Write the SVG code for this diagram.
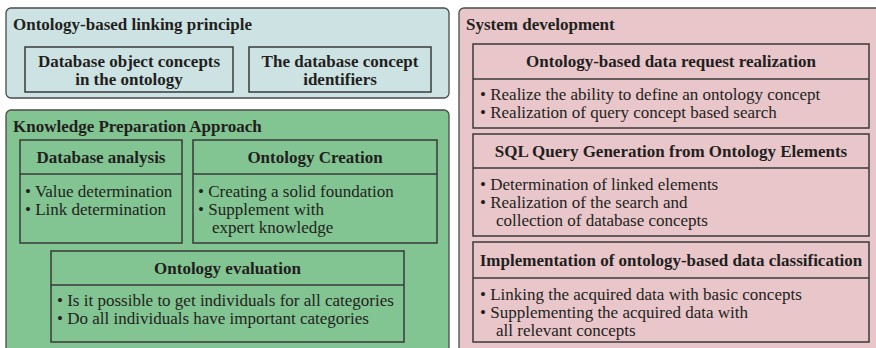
<svg xmlns="http://www.w3.org/2000/svg" width="876" height="348" viewBox="0 0 876 348">
<style>
text{font-family:"Liberation Serif","Times New Roman",serif;font-size:17px;fill:#231f20}
.b{font-weight:bold}
.c{text-anchor:middle}
.panel{stroke:#4a4a4a;stroke-width:1.3}
.box{fill:none;stroke:#3a3a3a;stroke-width:1.5}
.div{stroke:#3a3a3a;stroke-width:1.5}
</style>
<rect width="876" height="348" fill="#ffffff"/>
<g id="linking-panel">
<rect class="panel" x="6" y="8" width="443" height="90" rx="5" fill="#cde3e3"/>
<text class="b" x="13" y="30">Ontology-based linking principle</text>
</g>
<g id="db-object-concepts">
<rect class="box" x="25" y="47" width="208" height="45"/>
<text class="b c" x="129" y="67">Database object concepts</text>
<text class="b c" x="129" y="85">in the ontology</text>
</g>
<g id="db-concept-identifiers">
<rect class="box" x="249" y="47" width="182" height="45"/>
<text class="b c" x="340" y="67">The database concept</text>
<text class="b c" x="340" y="85">identifiers</text>
</g>
<g id="knowledge-panel">
<rect class="panel" x="6" y="110" width="443" height="260" rx="5" fill="#82c492"/>
<text class="b" x="13" y="132">Knowledge Preparation Approach</text>
</g>
<g id="database-analysis">
<rect class="box" x="20" y="140" width="162" height="103"/>
<line class="div" x1="20" y1="174" x2="182" y2="174"/>
<text class="b c" x="101" y="163">Database analysis</text>
<text x="25" y="197">• Value determination</text>
<text x="25" y="215">• Link determination</text>
</g>
<g id="ontology-creation">
<rect class="box" x="193" y="140" width="244" height="103"/>
<line class="div" x1="193" y1="174" x2="437" y2="174"/>
<text class="b c" x="315" y="163">Ontology Creation</text>
<text x="198" y="197">• Creating a solid foundation</text>
<text x="198" y="215">• Supplement with</text>
<text x="212" y="233">expert knowledge</text>
</g>
<g id="ontology-evaluation">
<rect class="box" x="51" y="251" width="353" height="91"/>
<line class="div" x1="51" y1="285" x2="404" y2="285"/>
<text class="b c" x="227.5" y="274">Ontology evaluation</text>
<text x="57" y="306">• Is it possible to get individuals for all categories</text>
<text x="57" y="324">• Do all individuals have important categories</text>
</g>
<g id="system-panel">
<rect class="panel" x="459" y="8" width="440" height="360" rx="5" fill="#e8c6ca"/>
<text class="b" x="466" y="30">System development</text>
</g>
<g id="data-request">
<rect class="box" x="473" y="44" width="396" height="84"/>
<line class="div" x1="473" y1="79" x2="869" y2="79"/>
<text class="b c" x="671" y="67">Ontology-based data request realization</text>
<text x="480" y="100">• Realize the ability to define an ontology concept</text>
<text x="480" y="118">• Realization of query concept based search</text>
</g>
<g id="sql-generation">
<rect class="box" x="473" y="134" width="396" height="102"/>
<line class="div" x1="473" y1="168" x2="869" y2="168"/>
<text class="b c" x="671" y="157">SQL Query Generation from Ontology Elements</text>
<text x="480" y="190">• Determination of linked elements</text>
<text x="480" y="208">• Realization of the search and</text>
<text x="496" y="226">collection of database concepts</text>
</g>
<g id="data-classification">
<rect class="box" x="473" y="242" width="396" height="100"/>
<line class="div" x1="473" y1="278" x2="869" y2="278"/>
<text class="b c" x="671" y="266">Implementation of ontology-based data classification</text>
<text x="480" y="300">• Linking the acquired data with basic concepts</text>
<text x="480" y="318">• Supplementing the acquired data with</text>
<text x="496" y="336">all relevant concepts</text>
</g>
<g id="connectors"/>
</svg>
